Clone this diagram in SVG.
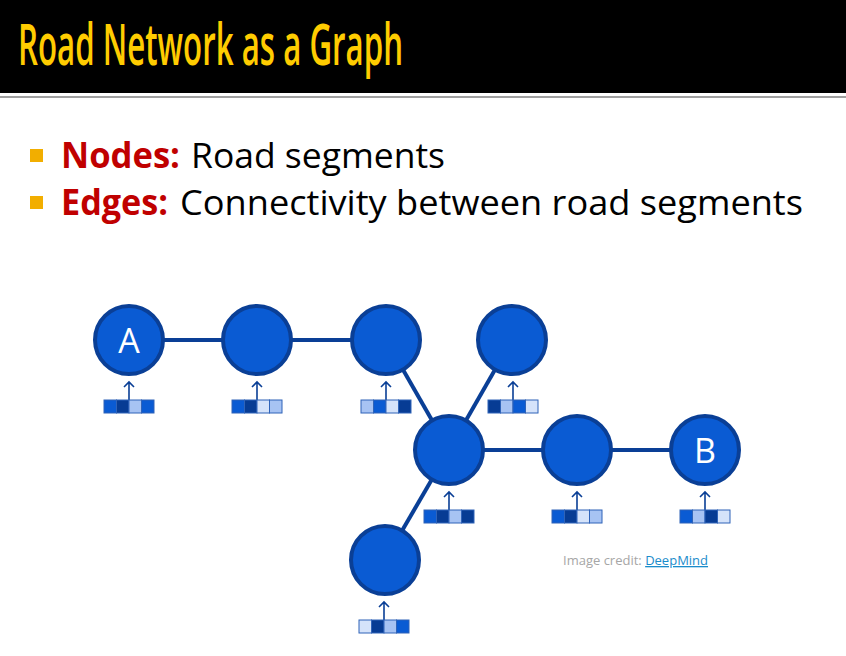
<svg xmlns="http://www.w3.org/2000/svg" width="846" height="656" viewBox="0 0 846 656">
<style>
.title{font-family:"Open Sans","Liberation Sans",sans-serif;font-size:57px;font-weight:600;fill:#FFCC00}
.lbl{font-family:"Open Sans","Liberation Sans",sans-serif;font-size:35px;fill:#C00000;font-weight:bold}
.body{font-family:"Open Sans","Liberation Sans",sans-serif;font-size:35px;fill:#000000}
.bullet{fill:#F2AE00}
.node{fill:#0A5BD3;stroke:#0A3F96;stroke-width:4}
.edge{stroke:#0A3F96;stroke-width:4;fill:none}
.arr{stroke:#0A3F96;stroke-width:1.6;fill:none}
.m{fill:#0A5BD3;stroke:#2F63B8;stroke-width:1}
.d{fill:#073C94;stroke:#2F63B8;stroke-width:1}
.l{fill:#A7C3F3;stroke:#2F63B8;stroke-width:1}
.v{fill:#D5E3FA;stroke:#2F63B8;stroke-width:1}
.nl{font-family:"Open Sans","Liberation Sans",sans-serif;font-size:34px;fill:#FFFFFF;text-anchor:middle}
.credit{font-family:"Open Sans","Liberation Sans",sans-serif;font-size:13px;fill:#A6A6A6}
</style>
<defs>
<g id="ar"><path class="arr" d="M0,0 V-18 M-5,-13 L0,-18 L5,-13"/></g>
</defs>
<rect x="0" y="0" width="846" height="93" fill="#000000"/>
<rect x="0" y="96" width="846" height="2" fill="#A0A0A0"/>
<text class="title" x="18" y="65" textLength="385" lengthAdjust="spacingAndGlyphs">Road Network as a Graph</text>

<rect class="bullet" x="30" y="149" width="13" height="13"/>
<text class="lbl" x="61" y="168" textLength="119" lengthAdjust="spacingAndGlyphs">Nodes:</text>
<text class="body" x="191" y="168" textLength="254" lengthAdjust="spacingAndGlyphs">Road segments</text>
<rect class="bullet" x="30" y="196" width="13" height="13"/>
<text class="lbl" x="61" y="215" textLength="107" lengthAdjust="spacingAndGlyphs">Edges:</text>
<text class="body" x="180" y="215" textLength="623" lengthAdjust="spacingAndGlyphs">Connectivity between road segments</text>

<g id="connectors">
<line class="edge" x1="129" y1="340" x2="257" y2="340"/>
<line class="edge" x1="257" y1="340" x2="386" y2="340"/>
<line class="edge" x1="386" y1="340" x2="449" y2="450"/>
<line class="edge" x1="512" y1="340" x2="449" y2="450"/>
<line class="edge" x1="449" y1="450" x2="577" y2="450"/>
<line class="edge" x1="577" y1="450" x2="705" y2="450"/>
<line class="edge" x1="449" y1="450" x2="385" y2="560"/>
</g>

<g id="nodeA">
<circle class="node" cx="129" cy="340" r="34"/>
<text class="nl" x="129" y="353">A</text>
<use href="#ar" x="129" y="400"/>
<rect class="m" x="104" y="400" width="12.5" height="13"/><rect class="d" x="116.5" y="400" width="12.5" height="13"/><rect class="l" x="129" y="400" width="12.5" height="13"/><rect class="m" x="141.5" y="400" width="12.5" height="13"/>
</g>
<g id="node2">
<circle class="node" cx="257" cy="340" r="34"/>
<use href="#ar" x="257" y="400"/>
<rect class="m" x="232" y="400" width="12.5" height="13"/><rect class="d" x="244.5" y="400" width="12.5" height="13"/><rect class="v" x="257" y="400" width="12.5" height="13"/><rect class="l" x="269.5" y="400" width="12.5" height="13"/>
</g>
<g id="node3">
<circle class="node" cx="386" cy="340" r="34"/>
<use href="#ar" x="386" y="400"/>
<rect class="l" x="361" y="400" width="12.5" height="13"/><rect class="m" x="373.5" y="400" width="12.5" height="13"/><rect class="v" x="386" y="400" width="12.5" height="13"/><rect class="d" x="398.5" y="400" width="12.5" height="13"/>
</g>
<g id="node4">
<circle class="node" cx="512" cy="340" r="34"/>
<use href="#ar" x="513" y="400"/>
<rect class="d" x="488" y="400" width="12.5" height="13"/><rect class="l" x="500.5" y="400" width="12.5" height="13"/><rect class="m" x="513" y="400" width="12.5" height="13"/><rect class="v" x="525.5" y="400" width="12.5" height="13"/>
</g>
<g id="node5">
<circle class="node" cx="449" cy="450" r="34"/>
<use href="#ar" x="449" y="510"/>
<rect class="m" x="424" y="510" width="12.5" height="13"/><rect class="d" x="436.5" y="510" width="12.5" height="13"/><rect class="l" x="449" y="510" width="12.5" height="13"/><rect class="d" x="461.5" y="510" width="12.5" height="13"/>
</g>
<g id="node6">
<circle class="node" cx="577" cy="450" r="34"/>
<use href="#ar" x="577" y="510"/>
<rect class="m" x="552" y="510" width="12.5" height="13"/><rect class="d" x="564.5" y="510" width="12.5" height="13"/><rect class="v" x="577" y="510" width="12.5" height="13"/><rect class="l" x="589.5" y="510" width="12.5" height="13"/>
</g>
<g id="nodeB">
<circle class="node" cx="705" cy="450" r="34"/>
<text class="nl" x="705" y="463">B</text>
<use href="#ar" x="705" y="510"/>
<rect class="m" x="680" y="510" width="12.5" height="13"/><rect class="l" x="692.5" y="510" width="12.5" height="13"/><rect class="d" x="705" y="510" width="12.5" height="13"/><rect class="v" x="717.5" y="510" width="12.5" height="13"/>
</g>
<g id="node7">
<circle class="node" cx="385" cy="560" r="34"/>
<use href="#ar" x="384" y="620"/>
<rect class="v" x="359" y="620" width="12.5" height="13"/><rect class="d" x="371.5" y="620" width="12.5" height="13"/><rect class="l" x="384" y="620" width="12.5" height="13"/><rect class="m" x="396.5" y="620" width="12.5" height="13"/>
</g>

<text class="credit" x="563" y="565">Image credit: <tspan fill="#1A8CCB" text-decoration="underline">DeepMind</tspan></text>
</svg>
